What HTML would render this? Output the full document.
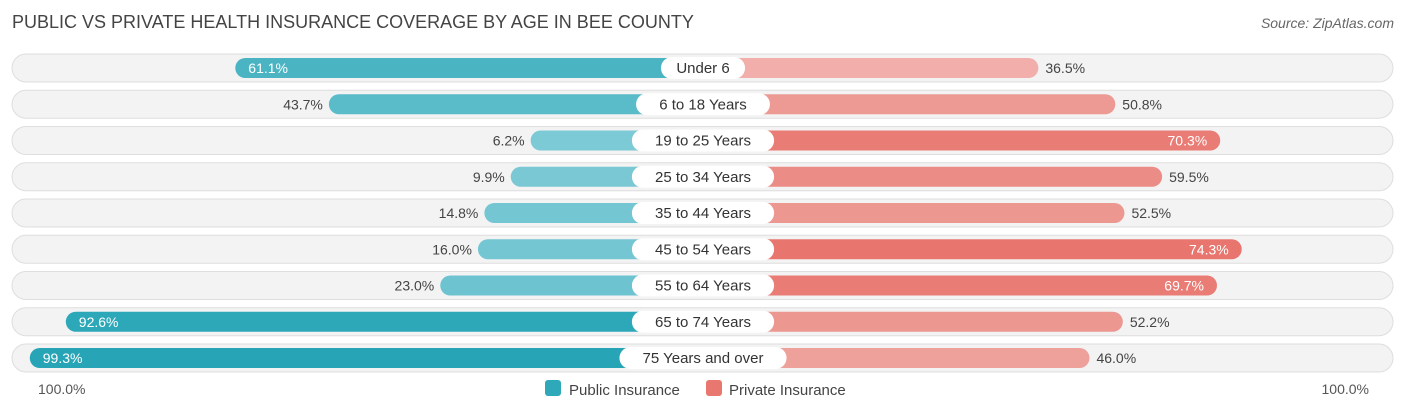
<!DOCTYPE html>
<html><head><meta charset="utf-8"><style>
body{margin:0;background:#fff;font-family:"Liberation Sans",sans-serif;}
svg text{font-family:"Liberation Sans",sans-serif;}
</style></head><body>
<svg width="1406" height="414" xmlns="http://www.w3.org/2000/svg" id="chart">
<text x="12" y="28" font-size="18" fill="#444">PUBLIC VS PRIVATE HEALTH INSURANCE COVERAGE BY AGE IN BEE COUNTY</text>
<text x="1394" y="28" font-size="14" fill="#666" font-style="italic" text-anchor="end">Source: ZipAtlas.com</text>
<g id="rows"></g>
<text x="38" y="394" font-size="14" fill="#555">100.0%</text>
<text x="1369" y="394" font-size="14" fill="#555" text-anchor="end">100.0%</text>
<g>
<rect x="545" y="380" width="16" height="16" rx="3" fill="#2fa9b9"/>
<text x="569" y="395" font-size="15" fill="#444">Public Insurance</text>
<rect x="706" y="380" width="16" height="16" rx="3" fill="#e8776f"/>
<text x="729" y="395" font-size="15" fill="#444">Private Insurance</text>
</g>
</svg>
<script>
const categories=["Under 6","6 to 18 Years","19 to 25 Years","25 to 34 Years","35 to 44 Years","45 to 54 Years","55 to 64 Years","65 to 74 Years","75 Years and over"];
const publicVals=[61.1,43.7,6.2,9.9,14.8,16.0,23.0,92.6,99.3];
const privateVals=[36.5,50.8,70.3,59.5,52.5,74.3,69.7,52.2,46.0];
const NS="http://www.w3.org/2000/svg";
const cx=703, y0=68, step=36.25;
function len(v){return 139+5.38*v;}
function mix(a,b,t){return "rgb("+a.map((x,i)=>Math.round(x+(b[i]-x)*t)).join(",")+")";}
function pubColor(v){return mix([130,204,215],[38,165,183],Math.min(1,Math.max(0,(v-0)/100)));}
function privColor(v){return mix([242,184,180],[232,117,110],Math.min(1,Math.max(0,(v-30)/45)));}
const g=document.getElementById("rows");
function el(tag,attrs,parent){const e=document.createElementNS(NS,tag);for(const k in attrs)e.setAttribute(k,attrs[k]);parent.appendChild(e);return e;}
categories.forEach((c,i)=>{
  const y=y0+i*step;
  const bg=el("rect",{x:12,y:y-14,width:1381,height:28,rx:14,fill:"#f3f3f3",stroke:"#dedede","stroke-width":1},g);
  
  
  const pv=publicVals[i], qv=privateVals[i];
  const pl=len(pv), ql=len(qv);
  const pb=el("rect",{x:cx-pl,y:y-10,width:pl,height:20,rx:10,fill:pubColor(pv)},g);
  
  
  const qb=el("rect",{x:cx,y:y-10,width:ql,height:20,rx:10,fill:privColor(qv)},g);
  
  
  const pin=pv>60;
  const pt=el("text",{x:pin?cx-pl+13:cx-pl-6,y:y+5,"font-size":14,fill:pin?"#fff":"#444","text-anchor":pin?"start":"end"},g);
  pt.textContent=pv.toFixed(1)+"%";
  
  
  const qin=qv>60;
  const qt=el("text",{x:qin?cx+ql-13:cx+ql+7,y:y+5,"font-size":14,fill:qin?"#fff":"#444","text-anchor":qin?"end":"start"},g);
  qt.textContent=qv.toFixed(1)+"%";
  
  
  const w=c.length*8.3+26;
  const lb=el("rect",{x:cx-w/2,y:y-11,width:w,height:22,rx:11,fill:"#fff"},g);
  
  
  const lt=el("text",{x:cx,y:y+5,"font-size":15,fill:"#333","text-anchor":"middle"},g);
  lt.textContent=c;
  
  
});
</script>
</body></html>
